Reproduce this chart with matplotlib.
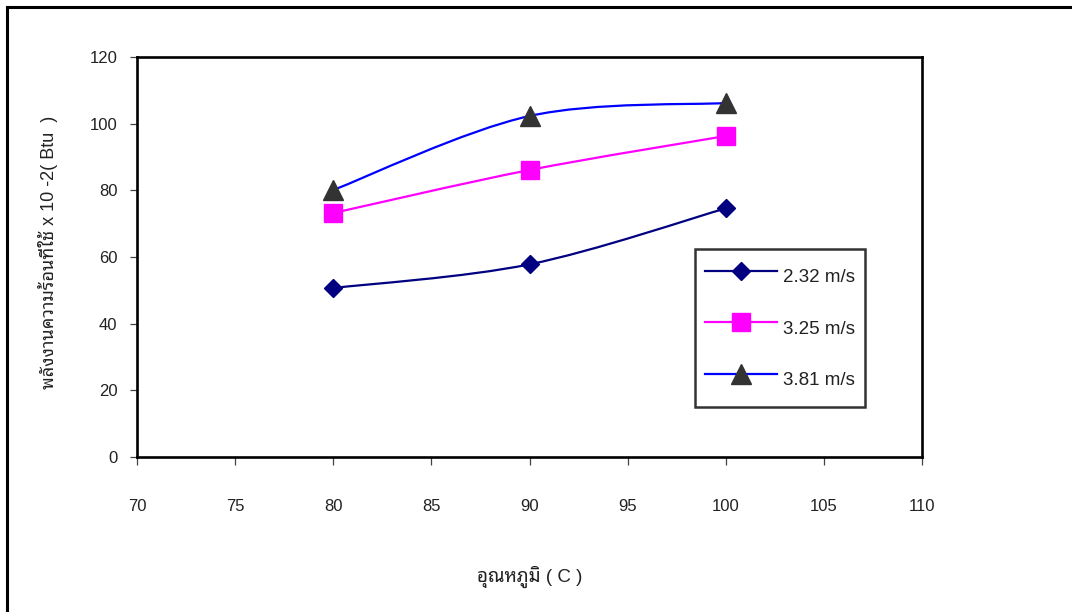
import numpy as np
import matplotlib
matplotlib.use('Agg')
import matplotlib.pyplot as plt
from matplotlib import font_manager
from matplotlib.path import Path
from matplotlib.patches import PathPatch
from matplotlib.lines import Line2D

# ข้อมูล: อุณหภูมิ กับ พลังงานความร้อนที่ใช้ ที่ความเร็วลมต่าง ๆ
temp = [80, 90, 100]
q_232 = [50.7, 57.8, 74.6]
q_325 = [73.2, 86.1, 96.3]
q_381 = [80.1, 102.3, 106.2]
labels = ['2.32 m/s', '3.25 m/s', '3.81 m/s']

x_ticks = [70, 75, 80, 85, 90, 95, 100, 105, 110]
y_ticks = [0, 20, 40, 60, 80, 100, 120]

# ฟอนต์ภาษาไทย
have = {f.name for f in font_manager.fontManager.ttflist}
thai = [n for n in ['Noto Sans Thai Looped', 'Sarabun', 'IBM Plex Sans Thai Looped',
                    'Noto Sans Thai', 'Anuphan'] if n in have][:1]
fam = ['Liberation Sans'] + thai + ['DejaVu Sans']
plt.rcParams['font.family'] = fam
txt_color = '#222222'


def smooth_path(xs, ys):
    # เส้นโค้งแบบ Excel (Bezier จาก Catmull-Rom)
    p = np.column_stack([xs, ys]).astype(float)
    n = len(p)
    verts = [p[0]]
    codes = [Path.MOVETO]
    for i in range(n - 1):
        p0 = p[i - 1] if i > 0 else p[i]
        p3 = p[i + 2] if i + 2 < n else p[i + 1]
        c1 = p[i] + (p[i + 1] - p0) / 6.0
        c2 = p[i + 1] - (p3 - p[i]) / 6.0
        verts += [c1, c2, p[i + 1]]
        codes += [Path.CURVE4] * 3
    return Path(verts, codes)


fig = plt.figure(figsize=(10.72, 6.12), dpi=100)
ax = fig.add_axes([137 / 1072, 1 - 457 / 612, 785 / 1072, 400 / 612])

series = [
    (q_232, '#000080', '#000080', 'D', 9.2),
    (q_325, '#FF00FF', '#FF00FF', 's', 12.5),
    (q_381, '#0000FF', '#333333', '^', 14),
]
handles = []
for (ys, lc, mc, mk, ms), lab in zip(series, labels):
    ax.add_patch(PathPatch(smooth_path(temp, ys), facecolor='none', edgecolor=lc,
                           lw=1.6, zorder=2))
    ax.plot(temp, ys, linestyle='none', marker=mk, markersize=ms,
            markerfacecolor=mc, markeredgecolor=mc, zorder=3)
    handles.append(Line2D([], [], color=lc, lw=1.6, marker=mk, markersize=ms,
                          markerfacecolor=mc, markeredgecolor=mc))

ax.set_xlim(70, 110)
ax.set_ylim(0, 120)
ax.set_xticks(x_ticks)
ax.set_yticks(y_ticks)
for s in ax.spines.values():
    s.set_linewidth(1.9)
    s.set_color('black')
ax.tick_params(axis='x', direction='out', length=6, width=0.9, color='#444444',
               pad=24, labelsize=12, labelcolor=txt_color)
ax.tick_params(axis='y', direction='out', length=5, width=0.9, color='#444444',
               pad=9, labelsize=12, labelcolor=txt_color)

fig.text(48 / 1072, 1 - 252 / 612, 'พลังงานความร้อนที่ใช้ x 10 -2( Btu  )',
         rotation=90, ha='center', va='center', fontsize=13, color=txt_color)
fig.text(530 / 1072, 1 - 577 / 612, 'อุณหภูมิ ( C )',
         ha='center', va='center', fontsize=13.5, color=txt_color)

leg = ax.legend(handles, labels, loc='upper left',
                bbox_to_anchor=((695 - 137) / 785, (457 - 249) / 400),
                frameon=True, fancybox=False, fontsize=13.5, handlelength=3.84,
                handleheight=2.55, handletextpad=0.32, labelspacing=0.84,
                borderpad=0.53, borderaxespad=0)
leg.get_frame().set_edgecolor('black')
leg.get_frame().set_linewidth(1.8)
for t in leg.get_texts():
    t.set_color(txt_color)

# กรอบนอกของแผนภูมิ
fig.add_artist(Line2D([7 / 1072, 1.0], [1 - 7 / 612, 1 - 7 / 612],
                      transform=fig.transFigure, color='black', lw=2.2))
fig.add_artist(Line2D([7 / 1072, 7 / 1072], [0.0, 1 - 7 / 612],
                      transform=fig.transFigure, color='black', lw=2.2))

fig.savefig('out.png', dpi=100)
